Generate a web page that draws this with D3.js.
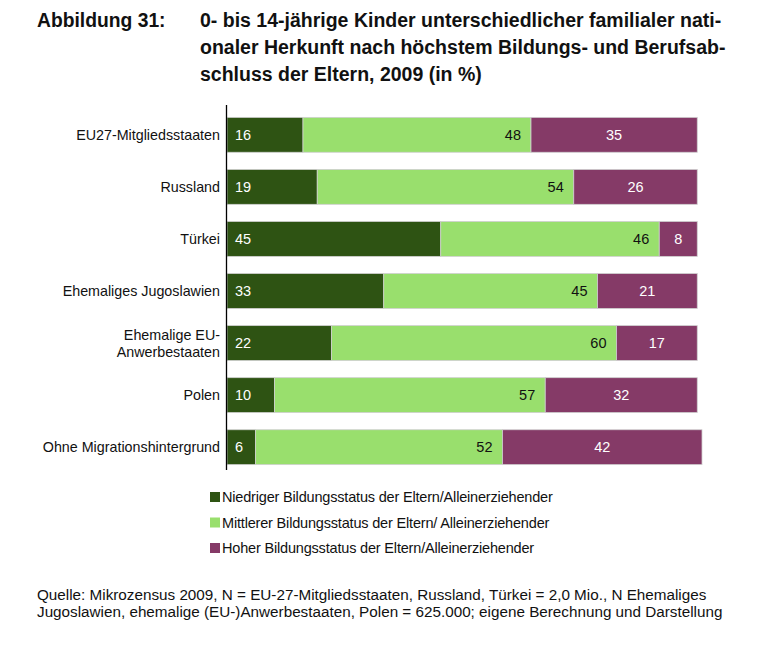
<!DOCTYPE html>
<html><head><meta charset="utf-8">
<script src="https://cdn.jsdelivr.net/npm/d3@7"></script>
<style>body{margin:0;background:#fff;} svg{display:block;font-family:"Liberation Sans",Arial,sans-serif;}</style>
</head><body>
<script>
const categories = ["EU27-Mitgliedsstaaten","Russland","Türkei","Ehemaliges Jugoslawien","Ehemalige EU-\nAnwerbestaaten","Polen","Ohne Migrationshintergrund"];
const niedrig = [16,19,45,33,22,10,6];
const mittel  = [48,54,46,45,60,57,52];
const hoch    = [35,26,8,21,17,32,42];
const seriesNames = ["Niedriger Bildungsstatus der Eltern/Alleinerziehender","Mittlerer Bildungsstatus der Eltern/ Alleinerziehender","Hoher Bildungsstatus der Eltern/Alleinerziehender"];
const colors = ["#2E5313","#99DF6D","#853A67"];
const titleLines = ["0- bis 14-jährige Kinder unterschiedlicher familialer nati-","onaler Herkunft nach höchstem Bildungs- und Berufsab-","schluss der Eltern, 2009 (in %)"];
const sourceLines = ["Quelle: Mikrozensus 2009, N = EU-27-Mitgliedsstaaten, Russland, Türkei = 2,0 Mio., N Ehemaliges","Jugoslawien, ehemalige (EU-)Anwerbestaaten, Polen = 625.000; eigene Berechnung und Darstellung"];

const W=759,H=645;
const svg=d3.select("body").append("svg").attr("width",W).attr("height",H);

// title
svg.append("text").attr("x",37).attr("y",27).attr("font-size",19.3).attr("font-weight","bold").attr("fill","#111").text("Abbildung 31:");
svg.append("g").selectAll("text").data(titleLines).join("text")
  .attr("x",200).attr("y",(d,i)=>27+i*27).attr("font-size",19.5).attr("font-weight","bold").attr("fill","#111").text(d=>d);

const x=d3.scaleLinear().domain([0,100]).range([227,702]);
const y=d3.scaleBand().domain(categories).range([108,474]).paddingInner(0.33).paddingOuter(0.18);

const data=categories.map((c,i)=>({cat:c,v:[niedrig[i],mittel[i],hoch[i]]}));
const stack=d3.stack().keys([0,1,2]).value((d,k)=>d.v[k]);
const layers=stack(data);

const g=svg.append("g");
layers.forEach((layer,k)=>{
  g.selectAll(null).data(layer).join("rect")
    .attr("x",d=>x(d[0])).attr("y",d=>y(d.data.cat))
    .attr("width",d=>x(d[1])-x(d[0])).attr("height",y.bandwidth())
    .attr("fill",colors[k]).attr("stroke","#cfcfcf").attr("stroke-width",0.8);
});
// labels
layers.forEach((layer,k)=>{
  g.selectAll(null).data(layer).join("text")
    .attr("x",d=> k===0 ? x(d[0])+8 : k===1 ? x(d[1])-10 : (x(d[0])+x(d[1]))/2)
    .attr("y",d=>y(d.data.cat)+y.bandwidth()/2+5)
    .attr("text-anchor",k===0?"start":k===1?"end":"middle")
    .attr("font-size",14.5)
    .attr("fill",k===1?"#111":"#fff").text(d=>d.data.v[k]);
});

// axis
const axis=d3.axisLeft(y).tickSize(0).tickPadding(0).tickFormat("");
const ag=svg.append("g").attr("transform","translate(226.5,0)").call(axis);
ag.select(".domain").attr("stroke","#000").attr("stroke-width",1.3).attr("d","M0,105V470");
// category labels
svg.append("g").selectAll("text").data(categories).join("text")
  .attr("text-anchor","end").attr("font-size",14.3).attr("fill","#111")
  .each(function(d){
    const lines=d.split("\n");
    const cy=y(d)+y.bandwidth()/2;
    const t=d3.select(this);
    lines.forEach((l,i)=>{
      t.append("tspan").attr("x",220).attr("y",cy+5+(i-(lines.length-1)/2)*17).text(l);
    });
  });

// legend
const lg=svg.append("g");
seriesNames.forEach((s,i)=>{
  const yy=497+i*25.5;
  lg.append("rect").attr("x",210).attr("y",yy-5).attr("width",10).attr("height",10).attr("fill",colors[i]);
  lg.append("text").attr("x",222).attr("y",yy+5).attr("font-size",14.5).attr("fill","#111").attr("letter-spacing",-0.18).text(s);
});

// source
svg.append("g").selectAll("text").data(sourceLines).join("text")
  .attr("x",37).attr("y",(d,i)=>600+i*17).attr("font-size",15.25).attr("fill","#111").text(d=>d);
</script>
</body></html>
